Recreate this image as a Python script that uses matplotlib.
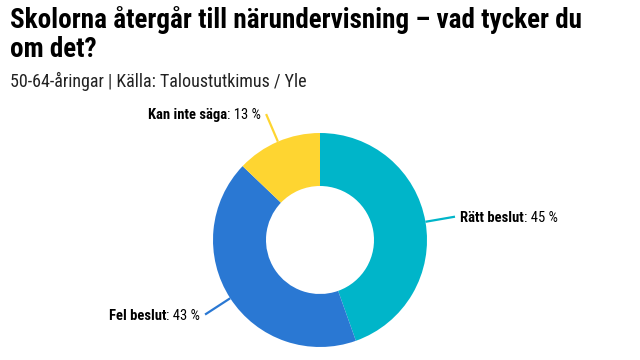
import matplotlib
matplotlib.use("Agg")
import matplotlib.pyplot as plt
import numpy as np
from matplotlib import font_manager

names = {f.name for f in font_manager.fontManager.ttflist}
FONT = next((n for n in ["Roboto Condensed", "Liberation Sans Narrow", "Open Sans Condensed", "Roboto"] if n in names), "DejaVu Sans")

title = "Skolorna återgår till närundervisning – vad tycker du\nom det?"
subtitle = "50-64-åringar | Källa: Taloustutkimus / Yle"
categories = ["Rätt beslut", "Fel beslut", "Kan inte säga"]
values = [45, 43, 13]
colors = ["#00B5C9", "#2A78D3", "#FED531"]

W, H = 640, 360
fig = plt.figure(figsize=(W / 100, H / 100), dpi=100)
ax = fig.add_axes([0, 0, 1, 1])

cx, cy, R, r_in = 320, H - 240, 107, 54
wedges, _ = ax.pie(values, colors=colors, startangle=90, counterclock=False,
                   center=(cx, cy), radius=R, frame=True,
                   wedgeprops=dict(width=R - r_in, linewidth=0))
ax.set_xlim(0, W)
ax.set_ylim(0, H)
ax.set_aspect("equal")
ax.axis("off")

fig.text(10 / W, 1 - 6 / H, title, fontsize=19.5, fontweight="bold", family=FONT,
         va="top", ha="left", linespacing=1.1, color="#000000")
fig.text(10 / W, 1 - 81 / H, subtitle, fontsize=13, family=FONT,
         va="center", ha="left", color="#222222")

renderer = fig.canvas.get_renderer()
fs = 10.5
for w, cat, val, col in zip(wedges, categories, values, colors):
    mid = np.deg2rad((w.theta1 + w.theta2) / 2)
    x0, y0 = cx + R * np.cos(mid), cy + R * np.sin(mid)
    x1, y1 = cx + (R + 30) * np.cos(mid), cy + (R + 30) * np.sin(mid)
    ax.plot([x0, x1], [y0, y1], color=col, lw=1.6, solid_capstyle="butt")
    right = np.cos(mid) >= 0
    if right:
        t1 = ax.text(x1 + 5, y1 - 1, cat, fontsize=fs, fontweight="bold", family=FONT,
                     ha="left", va="center")
        bb = t1.get_window_extent(renderer)
        xe = ax.transData.inverted().transform((bb.x1, bb.y0))[0]
        ax.text(xe, y1 - 1, f": {val} %", fontsize=fs, family=FONT, ha="left", va="center")
    else:
        t2 = ax.text(x1 - 5, y1 - 1, f": {val} %", fontsize=fs, family=FONT,
                     ha="right", va="center")
        bb = t2.get_window_extent(renderer)
        xs = ax.transData.inverted().transform((bb.x0, bb.y0))[0]
        ax.text(xs, y1 - 1, cat, fontsize=fs, fontweight="bold", family=FONT,
                ha="right", va="center")

fig.savefig("out.png", dpi=100)
